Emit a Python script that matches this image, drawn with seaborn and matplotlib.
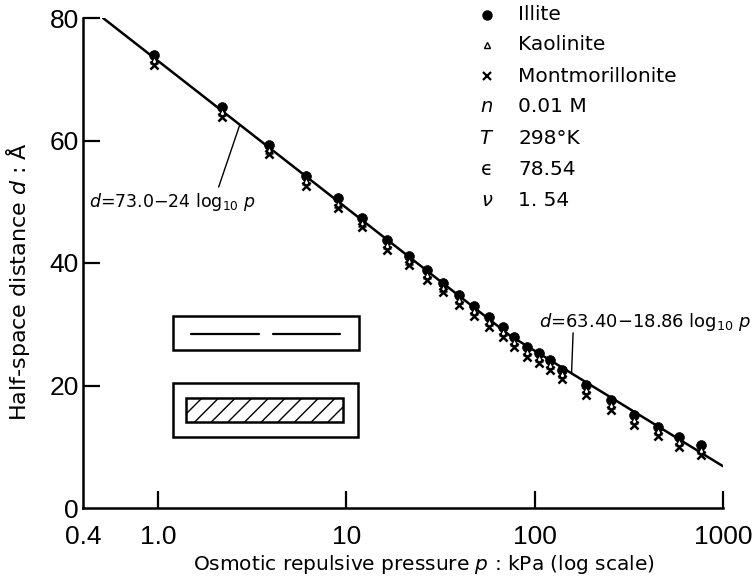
import numpy as np
import pandas as pd
import matplotlib
matplotlib.use("Agg")
import matplotlib.pyplot as plt
from matplotlib.patches import Rectangle
from matplotlib.lines import Line2D
import seaborn as sns

# Osmotic repulsive pressure (kPa) at each measurement
pressure = [0.95, 2.2, 3.9, 6.1, 9.0, 12.1, 16.4, 21.6, 26.7, 32.7, 39.6, 47.5, 57.1,
            67.5, 77.7, 91, 105, 121, 140, 188, 255, 338, 449, 585, 762]

# Half-space distance d (Å) for each clay
illite = [74.0, 65.4, 59.3, 54.2, 50.6, 47.3, 43.8, 41.1, 38.9, 36.8, 34.8, 33.0, 31.2,
          29.6, 27.9, 26.3, 25.3, 24.2, 22.6, 20.1, 17.6, 15.2, 13.3, 11.6, 10.3]
kaolinite = [73.1, 64.6, 58.5, 53.4, 49.7, 46.5, 43.0, 40.3, 38.1, 36.0, 34.0, 32.2, 30.4,
             28.8, 27.1, 25.5, 24.5, 23.4, 21.8, 19.3, 16.8, 14.4, 12.5, 10.8, 9.5]
montmorillonite = [72.4, 63.8, 57.8, 52.6, 49.0, 45.8, 42.2, 39.6, 37.3, 35.2, 33.2, 31.4, 29.6,
                   28.0, 26.3, 24.7, 23.7, 22.6, 21.0, 18.5, 16.0, 13.6, 11.7, 10.0, 8.7]

# Fitted relations d = a - b log10 p
fit_low = (73.0, 24.0)
fit_high = (63.40, 18.86)

x_ticks = [0.4, 1.0, 10, 100, 1000]
x_tick_labels = ["0.4", "1.0", "10", "100", "1000"]
y_ticks = [0, 20, 40, 60, 80]

legend_rows = [
    ("Illite", None),
    ("Kaolinite", None),
    ("Montmorillonite", None),
    ("0.01 M", r"$n$"),
    ("298°K", r"$T$"),
    ("78.54", "ϵ"),
    ("1. 54", r"$\nu$"),
]

sns.set_style("ticks")
plt.rcParams["font.family"] = ["DejaVu Sans"]
plt.rcParams["mathtext.fontset"] = "dejavusans"
for key in ("text.color", "axes.labelcolor", "xtick.color", "ytick.color", "axes.edgecolor"):
    plt.rcParams[key] = "black"

W, H = 753, 580
fig = plt.figure(figsize=(W / 100, H / 100), dpi=100)
fig.patch.set_facecolor("white")

# axes box in pixel terms: left 83, right 723, bottom 508, top 18
ax = fig.add_axes([83 / W, (H - 508) / H, 640 / W, 490 / H])
ax.set_xscale("log")
ax.set_xlim(0.4, 1000)
ax.set_ylim(0, 80)


def fit_curve(p):
    lp = np.log10(p)
    return np.maximum(fit_low[0] - fit_low[1] * lp, fit_high[0] - fit_high[1] * lp)


p_start = 10 ** ((fit_low[0] - 80) / fit_low[1])
p_line = np.logspace(np.log10(p_start), 3, 400)
line_df = pd.DataFrame({"p": p_line, "d": fit_curve(p_line)})
sns.lineplot(data=line_df, x="p", y="d", ax=ax, color="black", linewidth=1.8,
             estimator=None, sort=False, legend=False)

df = pd.DataFrame({"p": pressure, "illite": illite, "kaolinite": kaolinite,
                   "montmorillonite": montmorillonite})
sns.scatterplot(data=df, x="p", y="illite", ax=ax, marker="o", s=50, color="black",
                edgecolor="black", linewidth=0.5, zorder=3)
sns.scatterplot(data=df, x="p", y="kaolinite", ax=ax, marker="^", s=26, color="white",
                edgecolor="black", linewidth=1.0, zorder=4)
sns.scatterplot(data=df, x="p", y="montmorillonite", ax=ax, marker="x", s=34, color="black",
                linewidth=1.8, zorder=5)

ax.set_xlabel("")
ax.set_ylabel("")

# axes styling
for side in ("top", "right"):
    ax.spines[side].set_visible(False)
for side in ("left", "bottom"):
    ax.spines[side].set_linewidth(1.8)
ax.set_xticks(x_ticks)
ax.set_xticklabels(x_tick_labels)
ax.xaxis.set_minor_locator(matplotlib.ticker.NullLocator())
ax.set_yticks(y_ticks)
ax.tick_params(axis="both", direction="in", length=12, width=1.6, labelsize=19)
ax.tick_params(axis="x", pad=12)
ax.tick_params(axis="y", pad=3)
for lab in ax.get_xticklabels() + ax.get_yticklabels():
    lab.set_fontfamily("Liberation Sans")
ax.xaxis.get_major_ticks()[0].tick1line.set_visible(False)
ax.yaxis.get_major_ticks()[0].tick1line.set_visible(False)

fig.text(424 / W, 1 - 565 / H, r"Osmotic repulsive pressure $p$ : kPa (log scale)",
         ha="center", va="center", fontsize=14.5)
fig.text(18 / W, 1 - 282 / H, r"Half-space distance $d$ : Å",
         ha="center", va="center", rotation=90, fontsize=16)

# fit equations with leader lines
ax.text(0.43, 50.0, r"$d$=73.0$-$24 log$_{10}$ $p$", fontsize=12.5, ha="left", va="center")
p1 = 2.72
ax.plot([2.1, p1], [52.4, fit_curve(p1)], color="black", linewidth=1.0)
ax.text(106, 30.4, r"$d$=63.40$-$18.86 log$_{10}$ $p$", fontsize=13, ha="left", va="center")
p2 = 157
ax.plot([160, p2], [28.6, fit_curve(p2)], color="black", linewidth=1.0)

# legend and parameter block
row_y = [15, 45, 76, 107, 138, 169, 200]
mk_x, txt_x = 487 / W, 518 / W
marker_styles = [
    dict(marker="o", ms=6.5, mfc="black", mec="black"),
    dict(marker="^", ms=5, mfc="white", mec="black", mew=1.0),
    dict(marker="x", ms=5.5, mec="black", mew=1.6),
]
for i, ((label, sym), yy) in enumerate(zip(legend_rows, row_y)):
    fy = 1 - yy / H
    if sym is None:
        fig.lines.append(Line2D([mk_x], [fy], transform=fig.transFigure,
                                linestyle="none", **marker_styles[i]))
    else:
        fig.text(mk_x, fy, sym, ha="center", va="center", fontsize=14)
    fig.text(txt_x, fy, label, ha="left", va="center", fontsize=14.5)


# inset sketches (pixel boxes converted to figure fractions)
def px_rect(x0, y0, x1, y1, **kw):
    return Rectangle((x0 / W, 1 - y1 / H), (x1 - x0) / W, (y1 - y0) / H,
                     transform=fig.transFigure, **kw)


fig.patches.append(px_rect(173, 316, 359, 350, fill=False, edgecolor="black", linewidth=1.8))
for xa, xb in ((191, 259), (273, 340)):
    fig.lines.append(Line2D([xa / W, xb / W], [1 - 334 / H, 1 - 334 / H],
                            transform=fig.transFigure, color="black", linewidth=1.6))
fig.patches.append(px_rect(173, 383, 358, 437, fill=False, edgecolor="black", linewidth=1.8))
plt.rcParams["hatch.linewidth"] = 1.0
fig.patches.append(px_rect(186, 398, 343, 422, fill=False, edgecolor="black", linewidth=1.8,
                           hatch="//"))

fig.savefig("out.png", dpi=100, facecolor="white")
